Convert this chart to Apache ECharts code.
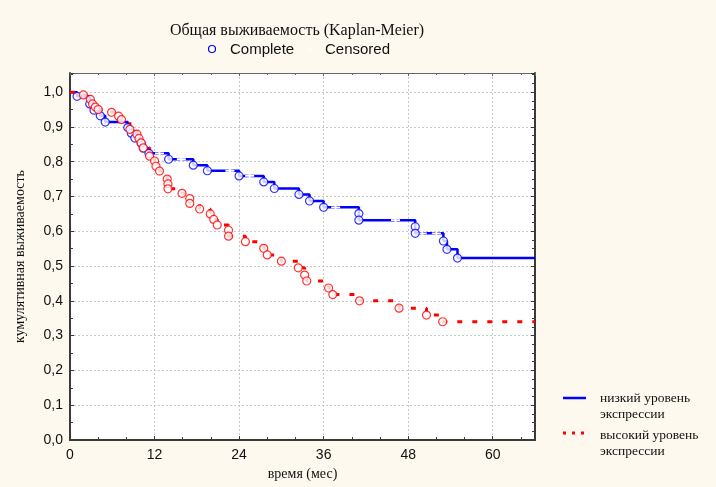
<!DOCTYPE html>
<html><head><meta charset="utf-8">
<script src="https://cdn.jsdelivr.net/npm/echarts@6/dist/echarts.min.js"></script>
<style>html,body{margin:0;padding:0;background:#fdf9ee}#c{width:716px;height:487px}</style>
</head><body><div id="c"></div>
<script>
const titleText = 'Общая выживаемость (Kaplan-Meier)';
const xName = 'время (мес)';
const yName = 'кумулятивная выживаемость';
const lowName = 'низкий уровень\nэкспрессии';
const highName = 'высокий уровень\nэкспрессии';
const legendTop = ['Complete', 'Censored'];
const xMax = 66;
const yMax = 1.055;

// low expression group: event times and survival after each event
const lowTimes = [1, 2.8, 3.4, 4.3, 5, 8.2, 8.7, 9.2, 10.1, 10.4, 11.2, 14, 17.5, 19.5, 24, 27.5, 29, 32.5, 34, 36, 41, 41, 49, 49, 53, 53.5, 55];
const lowSurv  = [0.988, 0.966, 0.948, 0.932, 0.914, 0.898, 0.882, 0.868, 0.853, 0.839, 0.824, 0.807, 0.790, 0.774, 0.759, 0.742, 0.723, 0.706, 0.687, 0.669, 0.651, 0.632, 0.613, 0.594, 0.572, 0.548, 0.523];
const lowCensored = [12.7, 15.8, 22.7, 25.5, 37.7, 46.2, 50, 52];

// high expression group
const highTimes = [1.9, 2.9, 3.2, 3.6, 4.0, 5.9, 6.9, 7.3, 8.5, 9.5, 9.8, 10.1, 10.4, 11.3, 12.0, 12.2, 12.7, 13.8, 13.9, 13.9, 15.9, 17, 17, 18.4, 19.9, 20.4, 20.9, 22.5, 22.5, 24.9, 27.5, 28, 30, 32.4, 33.3, 33.6, 36.7, 37.3, 41.1, 46.7, 50.6, 52.9];
const highSurv  = [0.992, 0.979, 0.966, 0.957, 0.950, 0.942, 0.931, 0.921, 0.893, 0.879, 0.867, 0.854, 0.840, 0.816, 0.802, 0.787, 0.773, 0.750, 0.736, 0.722, 0.709, 0.694, 0.680, 0.664, 0.650, 0.634, 0.618, 0.603, 0.586, 0.570, 0.551, 0.532, 0.514, 0.495, 0.474, 0.457, 0.437, 0.418, 0.400, 0.379, 0.359, 0.340];

function stepData(times, surv) {
  const d = [[0, 1]];
  times.forEach((t, i) => d.push([t, surv[i]]));
  d.push([xMax, surv[surv.length - 1]]);
  return d;
}
function pts(times, surv) { return times.map((t, i) => [t, surv[i]]); }
function censData(ct, times, surv) {
  return ct.map(t => { let s = 1; times.forEach((tt, i) => { if (tt <= t) s = surv[i]; }); return [t, s]; });
}

const BLUE = '#0000ff', RED = '#ff0000';
const plusPath = 'path://M4,0h2v4h4v2h-4v4h-2v-4h-4v-2h4z';
const fmt = v => v.toFixed(1).replace('.', ',');
const axisCol = '#3a3a3a';
const serif = 'Liberation Serif', sans = 'Liberation Sans';

const chart = echarts.init(document.getElementById('c'));
chart.setOption({
  backgroundColor: '#fdf9ee',
  animation: false,
  title: {
    text: titleText, left: 292, textAlign: 'center', top: 18,
    textStyle: { fontFamily: serif, fontSize: 16, fontWeight: 'normal', color: '#111' }
  },
  graphic: [
    { type: 'circle', shape: { cx: 212, cy: 49, r: 3.5 }, style: { fill: '#fff', stroke: BLUE, lineWidth: 1.2 } },
    { type: 'text', x: 230, y: 50, style: { text: legendTop[0], fill: '#111', font: '15px "Liberation Sans"', verticalAlign: 'middle' } },
    { type: 'text', x: 307, y: 50, style: { text: '+', fill: '#ffffff', font: '13px "Liberation Sans"', verticalAlign: 'middle' } },
    { type: 'text', x: 325, y: 50, style: { text: legendTop[1], fill: '#111', font: '15px "Liberation Sans"', verticalAlign: 'middle' } },
    { type: 'line', shape: { x1: 563, y1: 398, x2: 586, y2: 398 }, style: { stroke: BLUE, lineWidth: 2.5 } },
    { type: 'text', x: 600, y: 390, style: { text: lowName, fill: '#111', font: '13.5px "Liberation Serif"', lineHeight: 16.5 } },
    { type: 'line', shape: { x1: 563, y1: 433, x2: 590, y2: 433 }, style: { stroke: RED, lineWidth: 3, lineDash: [3, 6] } },
    { type: 'text', x: 600, y: 427, style: { text: highName, fill: '#111', font: '13.5px "Liberation Serif"', lineHeight: 16.5 } }
  ],
  grid: { left: 70, top: 73, right: 181, bottom: 47, show: true, backgroundColor: '#ffffff', borderWidth: 0 },
  xAxis: [{
    type: 'value', min: 0, max: xMax, interval: 12,
    name: xName, nameLocation: 'middle', nameGap: 20,
    nameTextStyle: { fontFamily: serif, fontSize: 14, color: '#111' },
    axisLine: { onZero: false, lineStyle: { color: axisCol, width: 2 } },
    axisTick: { inside: true, length: 4, lineStyle: { color: axisCol } },
    minorTick: { show: true, splitNumber: 3, length: 3, lineStyle: { color: axisCol } },
    axisLabel: { fontFamily: sans, fontSize: 14, color: '#111', margin: 8, showMaxLabel: false },
    splitLine: { show: true, lineStyle: { color: '#c8c8c8', type: [2, 2], width: 1 } }
  }, {
    type: 'value', min: 0, max: xMax, interval: 12, position: 'top',
    axisLine: { show: true, onZero: false, lineStyle: { color: '#666', width: 1 } },
    axisTick: { show: true, inside: true, length: 3, lineStyle: { color: '#666' } },
    minorTick: { show: true, splitNumber: 3, length: 2, lineStyle: { color: '#666' } },
    axisLabel: { show: false }, splitLine: { show: false }
  }],
  yAxis: [{
    type: 'value', min: 0, max: yMax, interval: 0.1,
    name: yName, nameLocation: 'middle', nameGap: 43, nameRotate: 90,
    nameTextStyle: { fontFamily: serif, fontSize: 14, color: '#111' },
    axisLine: { show: true, onZero: false, lineStyle: { color: axisCol, width: 2 } },
    axisTick: { show: true, inside: true, length: 4, lineStyle: { color: axisCol } },
    minorTick: { show: true, splitNumber: 2, length: 3, lineStyle: { color: axisCol } },
    axisLabel: { fontFamily: sans, fontSize: 14, color: '#111', margin: 7, formatter: fmt, showMaxLabel: false },
    splitLine: { show: true, lineStyle: { color: '#c8c8c8', type: [2, 2], width: 1 } }
  }, {
    type: 'value', min: 0, max: yMax, interval: 0.1, position: 'right',
    axisLine: { show: true, onZero: false, lineStyle: { color: axisCol, width: 2 } },
    axisTick: { show: true, inside: true, length: 4, lineStyle: { color: axisCol } },
    minorTick: { show: true, splitNumber: 4, length: 3, lineStyle: { color: axisCol } },
    axisLabel: { show: false }, splitLine: { show: false }
  }],
  series: [
    { name: lowName, type: 'line', step: 'end', data: stepData(lowTimes, lowSurv), symbol: 'none',
      lineStyle: { color: BLUE, width: 2.5 }, itemStyle: { color: BLUE }, z: 2 },
    { name: highName, type: 'line', step: 'end', data: stepData(highTimes, highSurv), symbol: 'none',
      lineStyle: { color: RED, width: 3, type: [5, 10] }, itemStyle: { color: RED }, z: 2 },
    { name: 'Censored', type: 'scatter', data: censData(lowCensored, lowTimes, lowSurv), symbol: plusPath, symbolSize: 9,
      itemStyle: { color: '#ffffff', opacity: 1 }, z: 3 },
    { name: 'Complete', type: 'scatter', data: pts(lowTimes, lowSurv), symbol: 'circle', symbolSize: 8,
      itemStyle: { color: '#ffffff', borderColor: BLUE, borderWidth: 1.2 }, z: 4 },
    { name: 'Complete', type: 'scatter', data: pts(highTimes, highSurv), symbol: 'circle', symbolSize: 8,
      itemStyle: { color: '#ffffff', borderColor: RED, borderWidth: 1.2 }, z: 5 }
  ]
});
</script></body></html>
